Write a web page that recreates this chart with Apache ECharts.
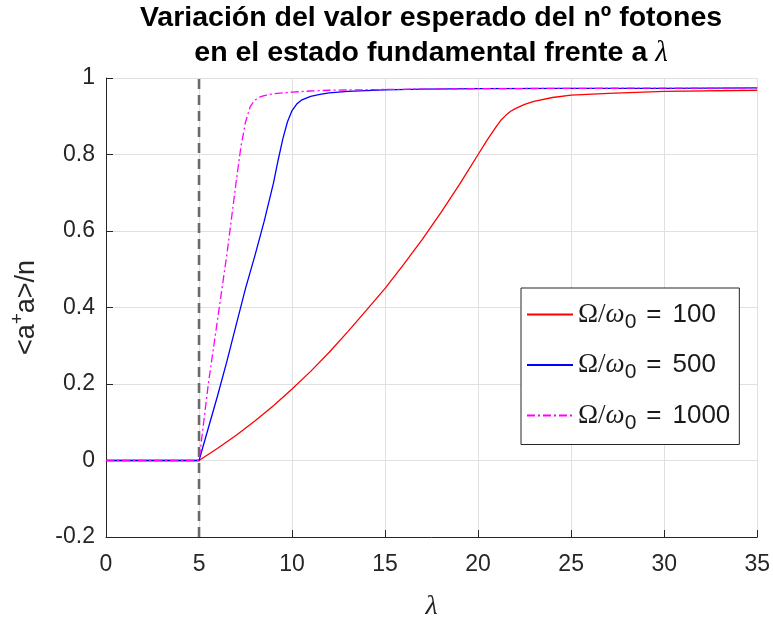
<!DOCTYPE html>
<html>
<head>
<meta charset="utf-8">
<script src="https://cdn.jsdelivr.net/npm/echarts@6/dist/echarts.min.js"></script>
<style>
  html, body { margin: 0; padding: 0; background: #fff; }
  #chart { width: 773px; height: 626px; }
</style>
</head>
<body>
<div id="chart"></div>
<script>
// Coupling strength λ and normalised photon number <a†a>/n for each Ω/ω0 ratio
const ratios = [100, 500, 1000];

const lamRed = [0, 5, 6, 7, 8, 9, 10, 11, 12, 13, 14, 15, 16, 17, 18, 19, 20, 20.5, 21, 21.25, 21.5, 21.75, 22, 22.5, 23, 24, 25, 27, 30, 35];
const nRed   = [0, 0, 0.032, 0.066, 0.103, 0.143, 0.187, 0.233, 0.283, 0.337, 0.393, 0.450, 0.513, 0.578, 0.648, 0.722, 0.800, 0.839, 0.875, 0.891, 0.903, 0.913, 0.920, 0.931, 0.939, 0.949, 0.955, 0.960, 0.965, 0.968];

const lamBlue = [0, 5, 5.5, 6, 6.5, 7, 7.5, 8, 8.5, 9, 9.25, 9.5, 9.75, 10, 10.25, 10.5, 11, 11.5, 12, 13, 14, 15, 17, 20, 25, 30, 35];
const nBlue   = [0, 0, 0.085, 0.17, 0.26, 0.355, 0.45, 0.535, 0.625, 0.725, 0.785, 0.84, 0.885, 0.915, 0.932, 0.942, 0.952, 0.957, 0.961, 0.965, 0.967, 0.969, 0.971, 0.972, 0.973, 0.973, 0.974];

const lamMag = [0, 5, 5.25, 5.5, 5.75, 6, 6.25, 6.5, 6.75, 7, 7.25, 7.5, 7.75, 8, 8.25, 8.5, 9, 10, 11, 12, 15, 20, 25, 35];
const nMag   = [0, 0, 0.1, 0.2, 0.285, 0.37, 0.455, 0.54, 0.635, 0.73, 0.82, 0.885, 0.925, 0.942, 0.95, 0.954, 0.959, 0.963, 0.966, 0.968, 0.970, 0.972, 0.973, 0.974];

// Critical coupling marked by the vertical dashed line
const lambdaC = 5;

const xTicks = { min: 0, max: 35, step: 5 };
const yTicks = { min: -0.2, max: 1, step: 0.2 };

const zip = (xs, ys) => xs.map((x, i) => [x, ys[i]]);
const seriesName = r => 'Ω/ω0 = ' + r;

const axisColor = '#262626';
const sans = 'Liberation Sans, Arial, sans-serif';
const serif = 'Liberation Serif, Times New Roman, serif';

const chart = echarts.init(document.getElementById('chart'), null, { renderer: 'canvas' });

chart.setOption({
  animation: false,
  backgroundColor: '#ffffff',
  title: {
    text: 'Variación del valor esperado del nº fotones\nen el estado fundamental frente a {l|λ}',
    left: 431,
    top: 1,
    textAlign: 'center',
    padding: 0,
    textStyle: {
      fontFamily: sans,
      fontWeight: 'bold',
      fontSize: 28.5,
      lineHeight: 35,
      color: '#000',
      rich: {
        l: { fontFamily: serif, fontStyle: 'italic', fontWeight: 'normal', fontSize: 29, lineHeight: 35, color: '#000' }
      }
    }
  },
  grid: { left: 106, right: 14, top: 78, bottom: 83, containLabel: false },
  legend: {
    data: ratios.map(seriesName),
    orient: 'vertical',
    left: 521,
    top: 288,
    padding: [13, 9, 11, 5],
    itemWidth: 46,
    itemHeight: 14,
    itemGap: 19,
    borderColor: axisColor,
    borderWidth: 1,
    backgroundColor: '#ffffff',
    itemStyle: { opacity: 0 },
    formatter: name => {
      const r = name.split('= ')[1];
      return '{o|Ω/}{w|ω}{s|0}{e|=}{t|' + r + '}';
    },
    textStyle: {
      fontFamily: sans,
      fontSize: 26,
      color: '#1a1a1a',
      rich: {
        o: { fontFamily: serif, fontSize: 27, lineHeight: 36, color: '#1a1a1a' },
        w: { fontFamily: serif, fontStyle: 'italic', fontSize: 27, lineHeight: 36, color: '#1a1a1a' },
        s: { fontFamily: sans, fontSize: 21, lineHeight: 12, verticalAlign: 'bottom', color: '#1a1a1a' },
        e: { fontFamily: sans, fontSize: 26, lineHeight: 36, padding: [0, 11, 0, 10], color: '#1a1a1a' },
        t: { fontFamily: sans, fontSize: 26, lineHeight: 36, color: '#1a1a1a' }
      }
    }
  },
  xAxis: {
    type: 'value',
    min: xTicks.min,
    max: xTicks.max,
    interval: xTicks.step,
    name: 'λ',
    nameLocation: 'middle',
    nameGap: 56,
    nameTextStyle: { fontFamily: serif, fontStyle: 'italic', fontSize: 28, color: axisColor },
    axisLine: { onZero: false, lineStyle: { color: axisColor, width: 1 } },
    axisTick: { inside: true, length: 7, lineStyle: { color: axisColor } },
    axisLabel: { fontFamily: sans, fontSize: 23, color: axisColor, margin: 16 },
    splitLine: { show: true, lineStyle: { color: '#e0e0e0', width: 1 } }
  },
  yAxis: {
    type: 'value',
    min: yTicks.min,
    max: yTicks.max,
    interval: yTicks.step,
    name: '<a{p|+}a>/n',
    nameLocation: 'middle',
    nameRotate: 90,
    nameGap: 59,
    nameTextStyle: {
      fontFamily: sans, fontSize: 27, lineHeight: 36, color: axisColor,
      rich: {
        p: { fontFamily: sans, fontSize: 19, lineHeight: 16, verticalAlign: 'top', color: axisColor }
      }
    },
    axisLine: { show: true, onZero: false, lineStyle: { color: axisColor, width: 1 } },
    axisTick: { show: true, inside: true, length: 7, lineStyle: { color: axisColor } },
    axisLabel: {
      fontFamily: sans, fontSize: 23, color: axisColor, margin: 11,
      formatter: v => String(+v.toFixed(1))
    },
    splitLine: { show: true, lineStyle: { color: '#e0e0e0', width: 1 } }
  },
  series: [
    {
      name: 'critical',
      type: 'line',
      data: [[lambdaC, yTicks.min], [lambdaC, yTicks.max]],
      symbol: 'none',
      silent: true,
      lineStyle: { color: '#6a6a6a', width: 2.6, type: [10, 6] },
      z: 1
    },
    {
      name: seriesName(ratios[0]),
      type: 'line',
      data: zip(lamRed, nRed),
      symbol: 'none',
      color: '#ff0000',
      lineStyle: { color: '#ff0000', width: 1.3 },
      z: 2
    },
    {
      name: seriesName(ratios[1]),
      type: 'line',
      data: zip(lamBlue, nBlue),
      symbol: 'none',
      color: '#0000ff',
      lineStyle: { color: '#0000ff', width: 1.3 },
      z: 3
    },
    {
      name: seriesName(ratios[2]),
      type: 'line',
      data: zip(lamMag, nMag),
      symbol: 'none',
      color: '#ff00ff',
      lineStyle: { color: '#ff00ff', width: 1.3, type: [8, 3, 2, 3] },
      z: 4
    }
  ]
});
</script>
</body>
</html>
